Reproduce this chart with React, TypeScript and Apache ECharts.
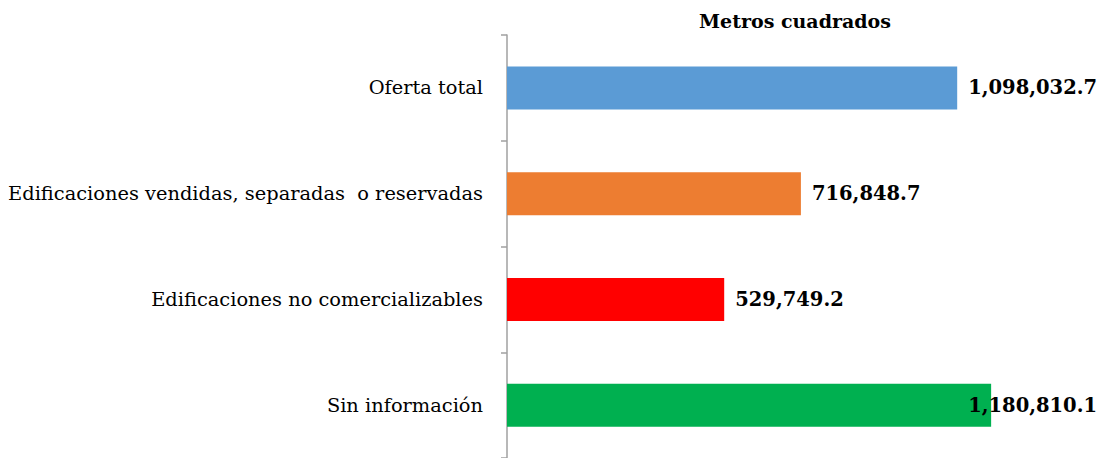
import React, { useEffect, useRef } from "react";
import * as echarts from "echarts";

const categories = [
  "Oferta total",
  "Edificaciones vendidas, separadas  o reservadas",
  "Edificaciones no comercializables",
  "Sin información",
];
const values = [1098032.7, 716848.7, 529749.2, 1180810.1];
const colors = ["#5B9BD5", "#ED7D31", "#FF0000", "#00B050"];
const titleText = "Metros cuadrados";

const fmt = (v: number) =>
  v.toLocaleString("en-US", { minimumFractionDigits: 1, maximumFractionDigits: 1 });

export default function App() {
  const ref = useRef<HTMLDivElement>(null);
  useEffect(() => {
    if (!ref.current) return;
    const chart = echarts.init(ref.current, undefined, { renderer: "svg" });
    const serif = "'DejaVu Serif', serif";
    chart.setOption({
      animation: false,
      backgroundColor: "#ffffff",
      title: {
        text: titleText,
        left: 790,
        top: 6,
        textAlign: "center",
        textStyle: { fontFamily: serif, fontWeight: "bold", fontSize: 19, color: "#000" },
      },
      grid: { left: 507, top: 35, width: 574, height: 423, containLabel: false },
      xAxis: {
        type: "value",
        min: 0,
        max: 1400000,
        show: false,
      },
      yAxis: {
        type: "category",
        data: categories,
        inverse: true,
        axisLine: { show: true, lineStyle: { color: "#a0a0a0", width: 1.5 } },
        axisTick: { show: true, length: 6, lineStyle: { color: "#a0a0a0", width: 1.5 } },
        axisLabel: { margin: 24, fontFamily: serif, fontSize: 19.4, color: "#000" },
        splitLine: { show: false },
      },
      series: [
        {
          type: "bar",
          barWidth: 43,
          data: values.map((v, i) => ({
            value: v,
            itemStyle: { color: colors[i] },
            label: i === 3 ? { offset: [-34, 0] } : {},
          })),
          label: {
            show: true,
            position: "right",
            distance: 11,
            fontFamily: serif,
            fontWeight: "bold",
            fontSize: 19.5,
            color: "#000",
            formatter: (p: any) => fmt(p.value),
          },
        },
      ],
    });
    return () => chart.dispose();
  }, []);
  return (
    <div
      ref={ref}
      style={{ position: "fixed", left: 0, top: 0, width: 1104, height: 458, background: "#fff" }}
    />
  );
}
